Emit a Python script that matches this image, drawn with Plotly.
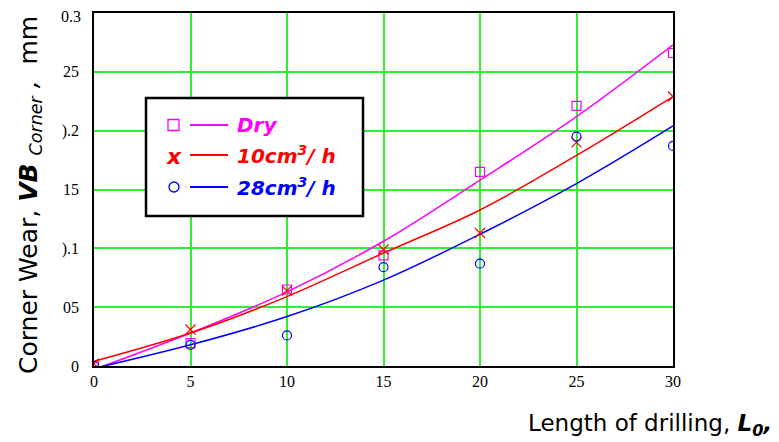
import plotly.graph_objects as go

# Measured data
x_meas = [0, 5, 10, 15, 20, 25, 30]
dry = [0.0, 0.0195, 0.065, 0.094, 0.165, 0.221, 0.266]
q10 = [0.002, 0.031, 0.064, 0.099, 0.113, 0.19, 0.229]
q28 = [0.0, 0.018, 0.026, 0.084, 0.087, 0.195, 0.187]

# Fitted curves
x_fit = [0, 5, 10, 15, 20, 25, 30]
dry_fit = [-0.003, 0.028, 0.063, 0.106, 0.158, 0.212, 0.273]
q10_fit = [0.004, 0.028, 0.059, 0.096, 0.1326, 0.179, 0.229]
q28_fit = [-0.002, 0.018, 0.042, 0.073, 0.112, 0.155, 0.204]

x_ticks = [0, 5, 10, 15, 20, 25, 30]
y_ticks = [0, 0.05, 0.1, 0.15, 0.2, 0.25]
y_ticktext = ["0", "05", ").1", "15", ").2", "25"]
y_top_label = "0.3"

MAG, RED, BLUE = "#ff00ff", "#ff0000", "#0000ff"
GRID = "#33ee33"

fig = go.Figure()
for yf, c in [(dry_fit, MAG), (q10_fit, RED), (q28_fit, BLUE)]:
    fig.add_trace(go.Scatter(x=x_fit, y=yf, mode="lines", line=dict(color=c, width=1.5, shape="spline"),
                             showlegend=False, cliponaxis=True))
fig.add_trace(go.Scatter(x=x_meas, y=dry, mode="markers", showlegend=False, cliponaxis=True,
                         marker=dict(symbol="square-open", size=9, color=MAG, line=dict(width=1.2))))
fig.add_trace(go.Scatter(x=x_meas, y=q10, mode="markers", showlegend=False, cliponaxis=True,
                         marker=dict(symbol="x-thin-open", size=10, color=RED, line=dict(width=1.2, color=RED))))
fig.add_trace(go.Scatter(x=x_meas, y=q28, mode="markers", showlegend=False, cliponaxis=True,
                         marker=dict(symbol="circle-open", size=9, color=BLUE, line=dict(width=1.2))))

serif = "Liberation Serif, Times New Roman, serif"
fig.update_xaxes(range=[0, 30], tickvals=x_ticks, ticktext=[str(v) for v in x_ticks], automargin=False,
                 showgrid=True, gridcolor=GRID, gridwidth=1.5, zeroline=False,
                 showline=True, linecolor="black", linewidth=1.5, mirror=True,
                 ticks="", tickfont=dict(family=serif, size=16, color="black"))
fig.update_yaxes(range=[0, 0.3], tickvals=y_ticks + [0.3], ticktext=y_ticktext + [""], automargin=False,
                 showgrid=True, gridcolor=GRID, gridwidth=1.5, zeroline=False,
                 showline=True, linecolor="black", linewidth=1.5, mirror=True, ticklabelstandoff=10,
                 ticks="", tickfont=dict(family=serif, size=16, color="black"))

# Manual legend (positions in screen pixels of the reference, converted to paper coords)
def py(p):
    return (366 - p) / 353

def px(p):
    return (p - 94) / 579

fig.add_annotation(xref="paper", yref="paper", x=px(83), y=py(17), xanchor="right", yanchor="middle",
                   text=y_top_label, showarrow=False, font=dict(family=serif, size=16, color="black"))

fig.add_shape(type="rect", xref="paper", yref="paper", x0=px(146), x1=px(363), y0=py(216), y1=py(98),
              line=dict(color="black", width=2.5), fillcolor="white", layer="above")

rows = [(125, MAG, "Dry", "sq"), (155, RED, "10cm<sup>3</sup>/ h", "x"), (187, BLUE, "28cm<sup>3</sup>/ h", "o")]
sans = "DejaVu Sans, sans-serif"
for yy, c, label, m in rows:
    fig.add_shape(type="line", xref="paper", yref="paper", x0=px(190), x1=px(228), y0=py(yy), y1=py(yy),
                  line=dict(color=c, width=2), layer="above")
    fig.add_annotation(xref="paper", yref="paper", x=px(235), y=py(yy), xanchor="left", yanchor="middle",
                       text=f"<b><i>{label}</i></b>", showarrow=False,
                       font=dict(family=sans, size=20, color=c))
    if m == "sq":
        fig.add_shape(type="rect", xref="paper", yref="paper", x0=px(168), x1=px(179), y0=py(yy + 5.5), y1=py(yy - 5.5),
                      line=dict(color=c, width=1.3), layer="above")
    elif m == "o":
        fig.add_shape(type="circle", xref="paper", yref="paper", x0=px(169), x1=px(179), y0=py(yy + 5), y1=py(yy - 5),
                      line=dict(color=c, width=1.3), layer="above")
    else:
        fig.add_annotation(xref="paper", yref="paper", x=px(174), y=py(yy + 1), xanchor="center", yanchor="middle",
                           text="<b><i>x</i></b>", showarrow=False, font=dict(family=sans, size=22, color=c))

fig.add_annotation(xref="paper", yref="paper", x=px(30), y=py(195), textangle=-90, xanchor="center", yanchor="middle",
                   text="Corner Wear, <b><i>VB</i></b> <sub><i>Corner</i></sub><i> ,</i>  mm", showarrow=False,
                   font=dict(family="DejaVu Sans, sans-serif", size=25, color="black"))
fig.add_annotation(xref="paper", yref="paper", x=px(526), y=py(425), xanchor="left", yanchor="middle",
                   text="Length of drilling, <b><i>L<sub>0</sub>,</i></b>", showarrow=False,
                   font=dict(family="DejaVu Sans, sans-serif", size=23, color="black"))

# The page body adds an 8px offset; margins compensate so the plot area lands at x 94-673, y 13-366
fig.update_layout(width=779, height=442, margin=dict(l=86, r=114, t=5, b=84),
                  plot_bgcolor="white", paper_bgcolor="white", showlegend=False)
fig.write_html("out.html")
